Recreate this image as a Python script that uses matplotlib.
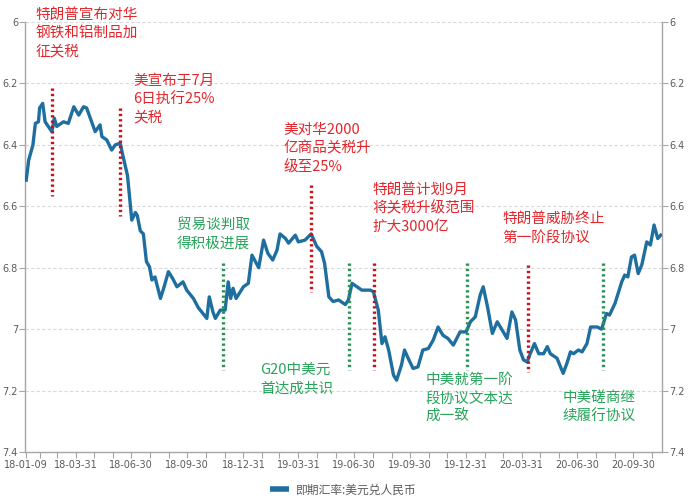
import numpy as np
import pandas as pd
import matplotlib
matplotlib.use('Agg')
import matplotlib.pyplot as plt
import matplotlib.dates as mdates
from matplotlib import font_manager
from matplotlib.lines import Line2D

plt.rcParams['font.family'] = ['Noto Sans CJK SC', 'DejaVu Sans']

# USD/CNY spot rate
dates = ['2018-01-09', '2018-01-13', '2018-01-20', '2018-01-24', '2018-01-29', '2018-01-31',
         '2018-02-05', '2018-02-09', '2018-02-20', '2018-02-24', '2018-02-28', '2018-03-11',
         '2018-03-19', '2018-03-28', '2018-04-05', '2018-04-13', '2018-04-18', '2018-04-27',
         '2018-05-02', '2018-05-10', '2018-05-13', '2018-05-21', '2018-05-29', '2018-06-04',
         '2018-06-12', '2018-06-17', '2018-06-24', '2018-07-01', '2018-07-07', '2018-07-10',
         '2018-07-15', '2018-07-20', '2018-07-25', '2018-07-30', '2018-08-03', '2018-08-08',
         '2018-08-17', '2018-08-23', '2018-08-30', '2018-09-06', '2018-09-13', '2018-09-23',
         '2018-09-29', '2018-10-10', '2018-10-18', '2018-11-01', '2018-11-05', '2018-11-11',
         '2018-11-15', '2018-11-23', '2018-12-01', '2018-12-06', '2018-12-10', '2018-12-14',
         '2018-12-19', '2018-12-31', '2019-01-08', '2019-01-14', '2019-01-25', '2019-02-02',
         '2019-02-09', '2019-02-17', '2019-02-24', '2019-03-01', '2019-03-10', '2019-03-15',
         '2019-03-26', '2019-03-31', '2019-04-11', '2019-04-21', '2019-04-30', '2019-05-08',
         '2019-05-13', '2019-05-20', '2019-05-27', '2019-06-05', '2019-06-16', '2019-06-21',
         '2019-06-27', '2019-07-05', '2019-07-13', '2019-07-27', '2019-08-01', '2019-08-09',
         '2019-08-15', '2019-08-20', '2019-08-26', '2019-09-03', '2019-09-08', '2019-09-16',
         '2019-09-21', '2019-09-27', '2019-10-05', '2019-10-13', '2019-10-21', '2019-10-30',
         '2019-11-07', '2019-11-15', '2019-11-23', '2019-12-01', '2019-12-10', '2019-12-21',
         '2019-12-31', '2020-01-07', '2020-01-15', '2020-01-23', '2020-01-28', '2020-02-04',
         '2020-02-12', '2020-02-20', '2020-02-28', '2020-03-07', '2020-03-15', '2020-03-21',
         '2020-03-28', '2020-04-03', '2020-04-09', '2020-04-14', '2020-04-21', '2020-04-28',
         '2020-05-06', '2020-05-12', '2020-05-17', '2020-05-28', '2020-06-07', '2020-06-13',
         '2020-06-19', '2020-06-24', '2020-07-02', '2020-07-08', '2020-07-16', '2020-07-22',
         '2020-07-27', '2020-08-02', '2020-08-09', '2020-08-17', '2020-08-22', '2020-08-31',
         '2020-09-05', '2020-09-11', '2020-09-16', '2020-09-21', '2020-09-27', '2020-10-02',
         '2020-10-08', '2020-10-14', '2020-10-22', '2020-10-28', '2020-11-03', '2020-11-09',
         '2020-11-14']
rate = [6.515, 6.45, 6.40, 6.33, 6.325, 6.28,
        6.265, 6.325, 6.357, 6.313, 6.34, 6.325,
        6.33, 6.276, 6.303, 6.276, 6.28, 6.33,
        6.357, 6.335, 6.373, 6.384, 6.417, 6.40,
        6.395, 6.44, 6.50, 6.645, 6.62, 6.63,
        6.68, 6.69, 6.78, 6.797, 6.84, 6.83,
        6.90, 6.862, 6.813, 6.835, 6.862, 6.846,
        6.873, 6.90, 6.93, 6.965, 6.895, 6.944,
        6.965, 6.938, 6.938, 6.846, 6.90, 6.867,
        6.90, 6.862, 6.851, 6.759, 6.80, 6.71,
        6.753, 6.775, 6.743, 6.69, 6.705, 6.72,
        6.694, 6.716, 6.71, 6.69, 6.73, 6.748,
        6.786, 6.895, 6.91, 6.905, 6.92, 6.905,
        6.851, 6.862, 6.873, 6.873, 6.878, 6.938,
        7.047, 7.025, 7.068, 7.15, 7.166, 7.117,
        7.068, 7.095, 7.128, 7.123, 7.068, 7.063,
        7.036, 6.993, 7.02, 7.03, 7.052, 7.009,
        7.009, 6.976, 6.96, 6.889, 6.862, 6.927,
        7.014, 6.976, 7.003, 7.03, 6.944, 6.97,
        7.068, 7.10, 7.107, 7.08, 7.047, 7.08,
        7.08, 7.057, 7.08, 7.095, 7.144, 7.112,
        7.074, 7.08, 7.068, 7.074, 7.047, 6.993,
        6.993, 6.993, 7.0, 6.949, 6.954, 6.916,
        6.884, 6.846, 6.824, 6.83, 6.765, 6.759,
        6.819, 6.79, 6.716, 6.726, 6.661, 6.705,
        6.694]

# events: date, kind, dotted line span, label and label anchor (top-left)
event_dates = ['2018-02-21', '2018-06-12', '2018-11-28', '2019-04-20', '2019-06-22',
               '2019-08-02', '2020-01-01', '2020-04-10', '2020-08-12']
event_kind = ['tariff', 'tariff', 'talks', 'tariff', 'talks',
              'tariff', 'talks', 'tariff', 'talks']
event_top = [6.215, 6.28, 6.785, 6.53, 6.785, 6.785, 6.785, 6.79, 6.785]
event_bottom = [6.565, 6.63, 7.134, 6.879, 7.134, 7.134, 7.134, 7.14, 7.134]
event_labels = ['特朗普宣布对华\n钢铁和铝制品加\n征关税',
                '美宣布于7月\n6日执行25%\n关税',
                '贸易谈判取\n得积极进展',
                '美对华2000\n亿商品关税升\n级至25%',
                'G20中美元\n首达成共识',
                '特朗普计划9月\n将关税升级范围\n扩大3000亿',
                '中美就第一阶\n段协议文本达\n成一致',
                '特朗普威胁终止\n第一阶段协议',
                '中美磋商继\n续履行协议']
label_kind = ['tariff', 'tariff', 'talks', 'tariff', 'talks', 'tariff', 'talks', 'tariff', 'talks']
label_x = ['2018-01-24', '2018-07-03', '2018-09-13', '2019-03-06', '2019-01-27',
           '2019-07-30', '2019-10-25', '2020-02-28', '2020-06-06']
label_y = [5.954, 6.169, 6.638, 6.329, 7.111, 6.524, 7.143, 6.619, 7.202]

x_ticks = ['2018-01-09', '2018-03-31', '2018-06-30', '2018-09-30', '2018-12-31', '2019-03-31',
           '2019-06-30', '2019-09-30', '2019-12-31', '2020-03-31', '2020-06-30', '2020-09-30']
x_ticklabels = ['18-01-09', '18-03-31', '18-06-30', '18-09-30', '18-12-31', '19-03-31',
                '19-06-30', '19-09-30', '19-12-31', '20-03-31', '20-06-30', '20-09-30']
y_ticks = [6, 6.2, 6.4, 6.6, 6.8, 7, 7.2, 7.4]
y_ticklabels = ['6', '6.2', '6.4', '6.6', '6.8', '7', '7.2', '7.4']

kind_color = {'tariff': '#e2262c', 'talks': '#27a35a'}
dot_color = {'tariff': '#c8101e', 'talks': '#2b9256'}
line_color = '#1f6ea0'
grey = '#5a5a5a'

names = {f.name for f in font_manager.fontManager.ttflist}
if 'Liberation Sans Narrow' in names:
    tick_font, tick_size = 'Liberation Sans Narrow', 9.5
else:
    tick_font, tick_size = 'DejaVu Sans', 7

fig = plt.figure(figsize=(6.92, 5.0), dpi=100)
ax = fig.add_axes([25 / 692, 48 / 500, 637 / 692, 430 / 500])

ax.plot(pd.to_datetime(dates), rate, color=line_color, lw=2.4, solid_joinstyle='round', zorder=3)

for d, k, t, b in zip(event_dates, event_kind, event_top, event_bottom):
    ax.vlines(pd.Timestamp(d), t, b, colors=dot_color[k], linestyles=(0, (0.7, 0.9)),
              lw=2.4, zorder=4)

for txt, k, x, y in zip(event_labels, label_kind, label_x, label_y):
    ax.text(pd.Timestamp(x), y, txt, color=kind_color[k], fontsize=10.5, fontweight='medium',
            linespacing=1.38, ha='left', va='top', clip_on=False, zorder=5)

ax.set_xlim(pd.Timestamp('2018-01-07'), pd.Timestamp('2020-11-16'))
ax.set_ylim(7.4, 6)

ax.set_xticks(pd.to_datetime(x_ticks))
ax.set_xticklabels(x_ticklabels)
ax.xaxis.set_minor_locator(mdates.MonthLocator(bymonthday=-1))
ax.set_yticks(y_ticks)
ax.set_yticklabels(y_ticklabels)

ax.tick_params(axis='y', which='both', left=True, right=True, labelleft=True, labelright=True,
               length=4, width=0.8, color='#a6a6a6', labelcolor=grey, labelsize=tick_size, pad=1)
ax.tick_params(axis='x', which='both', length=4, width=0.8, color='#a6a6a6',
               labelcolor=grey, labelsize=tick_size, pad=2)
for lab in ax.get_xticklabels():
    lab.set_family(tick_font)
for t in ax.yaxis.get_major_ticks():
    t.label1.set_family(tick_font)
    t.label2.set_family(tick_font)

ax.yaxis.grid(True, linestyle=(0, (3, 2)), color='#d9d9d9', lw=0.8)
ax.set_axisbelow(True)
ax.spines['top'].set_visible(False)
for s in ['left', 'right', 'bottom']:
    ax.spines[s].set_color('#a6a6a6')
    ax.spines[s].set_linewidth(1.0)

handle = Line2D([], [], color=line_color, lw=4, solid_capstyle='butt')
fig.legend([handle], ['即期汇率:美元兑人民币'], loc='center', bbox_to_anchor=(343 / 692, 1 - 490 / 500),
           frameon=False, fontsize=8.5, labelcolor=grey, handlelength=1.6, handletextpad=0.5)

fig.savefig('out.png', dpi=100)
